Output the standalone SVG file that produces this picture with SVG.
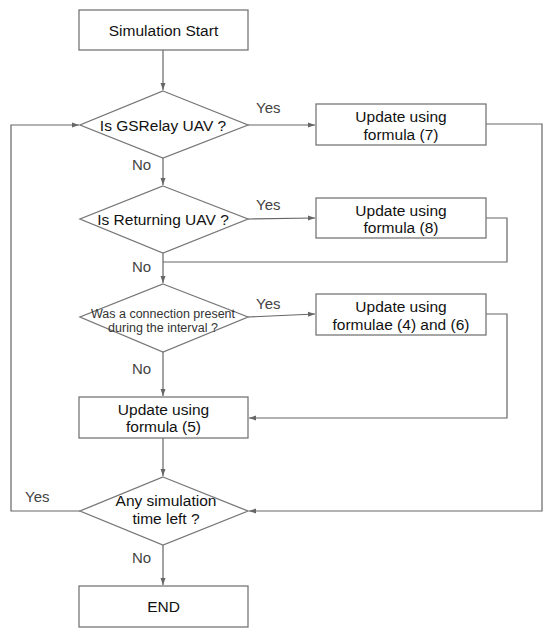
<svg xmlns="http://www.w3.org/2000/svg" width="550" height="634" viewBox="0 0 550 634">
<style>
.box{fill:#fff;stroke:#777;stroke-width:1.3}
.t{font-family:"Liberation Sans",Arial,sans-serif;font-size:15.5px;fill:#111;text-anchor:middle}
.s{font-size:12.5px;fill:#333}
.lbl{font-family:"Liberation Sans",Arial,sans-serif;font-size:15px;fill:#444}
.c{fill:none;stroke:#666;stroke-width:1.2}
</style>
<defs>
<marker id="a" markerWidth="8" markerHeight="6" refX="7" refY="3" orient="auto" markerUnits="userSpaceOnUse">
<path d="M0,0.5 L7,3 L0,5.5 Z" fill="#666"/>
</marker>
</defs>
<rect width="550" height="634" fill="#fff"/>
<g id="connectors">
<path class="c" d="M163,50 V90" marker-end="url(#a)"/>
<path class="c" d="M163,158 V185" marker-end="url(#a)"/>
<path class="c" d="M163,253 V283" marker-end="url(#a)"/>
<path class="c" d="M163,352 V396" marker-end="url(#a)"/>
<path class="c" d="M163,438 V476" marker-end="url(#a)"/>
<path class="c" d="M163,545 V585" marker-end="url(#a)"/>
<path class="c" d="M248,125 H315" marker-end="url(#a)"/>
<path class="c" d="M248,219 L315,218" marker-end="url(#a)"/>
<path class="c" d="M248,317 L315,314" marker-end="url(#a)"/>
<path class="c" d="M486,124 H542 V511 H249" marker-end="url(#a)"/>
<path class="c" d="M486,218 H507 V262 H163"/>
<path class="c" d="M486,314 H507 V418 H249" marker-end="url(#a)"/>
<path class="c" d="M80,511 H11 V125 H79" marker-end="url(#a)"/>
</g>
<g id="start"><rect class="box" x="79" y="10" width="169" height="40"/><text class="t" x="163.5" y="35.5">Simulation Start</text></g>
<g id="d1"><polygon class="box" points="163,91 248,125 163,158 80,125"/><text class="t" x="163" y="130.5">Is GSRelay UAV ?</text></g>
<g id="d2"><polygon class="box" points="163,186 248,219 163,253 80,219"/><text class="t" x="163" y="224.5">Is Returning UAV ?</text></g>
<g id="d3"><polygon class="box" points="163,284 248,317 163,352 80,317"/><text class="t s" x="163" y="317.5">Was a connection present</text><text class="t s" x="163" y="331.5">during the interval ?</text></g>
<g id="b5"><rect class="box" x="79" y="397" width="169" height="41"/><text class="t" x="163.5" y="414.5">Update using</text><text class="t" x="163.5" y="432">formula (5)</text></g>
<g id="d4"><polygon class="box" points="163,477 248,511 163,545 80,511"/><text class="t" x="166" y="506">Any simulation</text><text class="t" x="166" y="524">time left ?</text></g>
<g id="end"><rect class="box" x="79" y="586" width="169" height="41"/><text class="t" x="163.5" y="612">END</text></g>
<g id="b7"><rect class="box" x="316" y="104" width="170" height="41"/><text class="t" x="401" y="121.5">Update using</text><text class="t" x="401" y="139.5">formula (7)</text></g>
<g id="b8"><rect class="box" x="316" y="198" width="170" height="40"/><text class="t" x="401" y="215.5">Update using</text><text class="t" x="401" y="233">formula (8)</text></g>
<g id="b46"><rect class="box" x="316" y="294" width="170" height="41"/><text class="t" x="401" y="311.5">Update using</text><text class="t" x="401" y="329.5">formulae (4) and (6)</text></g>
<g id="labels">
<text class="lbl" x="256" y="113">Yes</text>
<text class="lbl" x="256" y="210">Yes</text>
<text class="lbl" x="256" y="309">Yes</text>
<text class="lbl" x="132" y="170">No</text>
<text class="lbl" x="132" y="272">No</text>
<text class="lbl" x="132" y="374">No</text>
<text class="lbl" x="132" y="563">No</text>
<text class="lbl" x="25" y="502">Yes</text>
</g>
</svg>
